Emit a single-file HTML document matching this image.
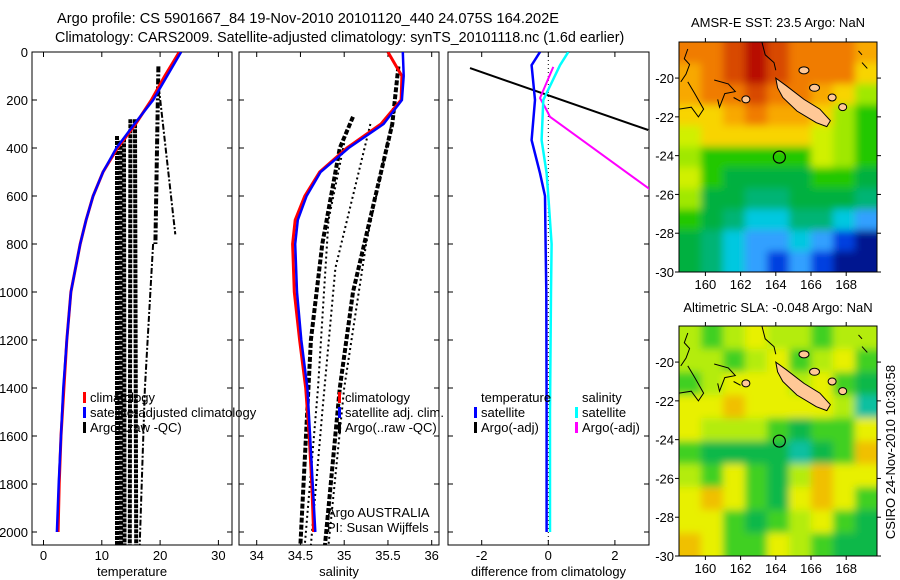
<!DOCTYPE html>
<html><head><meta charset="utf-8">
<style>
html,body{margin:0;padding:0;background:#fff;}
svg{display:block;font-family:"Liberation Sans",sans-serif;}
text{fill:#000;}
</style></head>
<body>
<svg id="fig" width="900" height="580" viewBox="0 0 900 580" xmlns="http://www.w3.org/2000/svg">
<defs>
<clipPath id="c1"><rect x="32" y="52" width="200" height="493"/></clipPath>
<clipPath id="c2"><rect x="239" y="52" width="200" height="493"/></clipPath>
<clipPath id="c3"><rect x="448" y="52" width="201" height="493"/></clipPath>
<clipPath id="m1"><rect x="679" y="42" width="198" height="230"/></clipPath>
<clipPath id="m2"><rect x="679" y="326" width="198" height="230"/></clipPath>
<filter id="bl" filterUnits="userSpaceOnUse" x="600" y="0" width="300" height="580"><feGaussianBlur stdDeviation="4"/></filter>
</defs>
<text x="57" y="23" font-size="14.6">Argo profile: CS 5901667_84 19-Nov-2010 20101120_440 24.075S 164.202E</text>
<text x="55" y="42" font-size="14.3">Climatology: CARS2009. Satellite-adjusted climatology: synTS_20101118.nc (1.6d earlier)</text>
<text x="778" y="27" font-size="13" text-anchor="middle">AMSR-E SST: 23.5 Argo: NaN</text>
<text x="778" y="312" font-size="13" text-anchor="middle">Altimetric SLA: -0.048 Argo: NaN</text>
<text transform="translate(895,452) rotate(-90)" font-size="13" text-anchor="middle">CSIRO 24-Nov-2010 10:30:58</text>
<g id="g1"></g>
<g id="g2"></g>
<g id="g3"></g>
<g id="gm1"></g>
<g id="gm2"></g>
</svg>
<script>
// ---- data ----
const depthClim = [0,100,200,300,400,500,600,700,800,1000,1200,1400,1600,1800,2000];
const tempClim = [23.3,20.8,18.5,15.8,12.7,10.2,8.5,7.3,6.3,4.7,4.0,3.5,3.0,2.7,2.5];
const tempSat = [23.6,21.2,18.8,15.6,12.5,10.2,8.5,7.3,6.3,4.7,4.0,3.4,3.0,2.6,2.3];
const salClim = [35.50,35.66,35.65,35.42,35.03,34.72,34.55,34.44,34.41,34.43,34.49,34.56,34.60,34.63,34.65];
const salSat = [35.67,35.68,35.66,35.45,35.05,34.73,34.57,34.47,34.44,34.46,34.51,34.58,34.61,34.64,34.67];
const argoTDepths = [[350,2054],[370,2054],[360,2054],[280,2054],[280,2054],[60,800],[800,1400,2054],[150,760]];
const argoTVals = [[12.6,12.6],[13.2,13.3],[13.8,13.9],[14.9,14.8],[15.7,15.9],[19.7,19.2],[18.8,17.4,16.5],[19.8,22.6]];
const argoSDepths = [[60,300,1000,1400,2054],[270,400,800,1200,2054],[380,700,1400,2054],[230,800,1400,2054],[300,900,1500,2054]];
const argoSVals = [[35.62,35.55,35.1,34.95,34.78],[35.1,34.95,34.75,34.62,34.5],[35.0,34.82,34.7,34.55],[35.58,35.25,35.0,34.82],[35.3,34.9,34.75,34.62]];
const diffDepths = [0,55,200,367,505,600,800,1000,1500,2000];
const diffTempSat = [-0.25,-0.5,-0.4,-0.5,-0.25,-0.1,-0.08,-0.06,-0.05,-0.05];
const diffSalSat = [0.6,0.35,-0.15,-0.2,-0.05,0.0,0.1,0.08,0.05,0.05];
const diffSalArgoDepths = [62,192,229,270,567,700];
const diffSalArgo = [0.15,-0.25,-0.1,0.05,3.0,4.4];
const diffTempArgoDepths = [67,325];
const diffTempArgo = [-2.35,3.0];
const depthTicks = [0,200,400,600,800,1000,1200,1400,1600,1800,2000];
const tempTicks = [0,10,20,30];
const salTicks = [34,34.5,35,35.5,36];
const diffTicks = [-2,0,2];
const lonTicks = [160,162,164,166,168];
const latTicks = [-20,-22,-24,-26,-28,-30];
const sstPalette = ['#b81000','#d84800','#f07c00','#f8a800','#f8d400','#d0f000','#a0e800','#20c800','#00b040','#00b474','#00c8e0','#30a0ff','#0040e0','#001890'];
const sstGrid = [
[2,2,1,0,1,2,2,2,3],
[3,2,1,0,1,2,2,2,4],
[3,2,2,1,2,2,3,4,6],
[4,4,3,2,3,3,4,6,7],
[5,4,4,4,4,4,5,6,7],
[6,7,7,7,7,7,5,6,7],
[5,7,8,8,8,8,7,7,8],
[6,8,8,9,9,8,8,8,9],
[7,8,9,10,10,9,9,10,11],
[8,9,10,11,11,10,11,12,13],
[8,9,10,11,12,11,12,13,13]];
const slaPalette = ['#e8f000','#b4ec10','#40d020','#10b848','#f0c000','#10c0a0'];
const slaGrid = [
[1,2,1,0,1,1,2,1,1],
[1,1,2,1,0,2,1,0,2],
[2,1,0,0,0,1,0,2,3],
[0,0,4,0,0,0,0,1,5],
[0,1,1,1,2,3,2,2,0],
[2,3,3,3,3,5,3,2,4],
[1,2,0,2,3,1,4,0,0],
[0,4,0,2,3,0,4,0,2],
[0,0,2,3,2,1,0,2,3],
[4,0,2,2,0,1,2,3,3]];
const mapLatTop=-18.14, mapLatBot=-30.0, mapLonL=158.5, mapLonR=169.75;
const argoLon=164.202, argoLat=-24.075;

// ---- helpers ----
const NS='http://www.w3.org/2000/svg';
function mk(tag, parent, attrs){const e=document.createElementNS(NS,tag);for(const k in attrs)e.setAttribute(k,attrs[k]);parent.appendChild(e);return e;}
const yD = d => 52 + d*0.24;
const xT = t => 43.5 + t*5.83;
const xS = s => 256.7 + (s-34)*87.5;
const xDf = v => 548.3 + v*33.3;
function pts(xs, ds, fx){return xs.map((v,i)=>fx(v).toFixed(1)+','+yD(ds[i]).toFixed(1)).join(' ');}

function frame(g, x0, x1, xt, fx, showY, labels){
  const r=mk('rect',g,{x:x0,y:52,width:x1-x0,height:493,fill:'none',stroke:'#000','stroke-width':1});
  
  
  depthTicks.forEach(d=>{
    const y=yD(d);
    mk('line',g,{x1:x0,x2:x0+5,y1:y,y2:y,stroke:'#000'});
    mk('line',g,{x1:x1-5,x2:x1,y1:y,y2:y,stroke:'#000'});
    if(showY){const t=mk('text',g,{x:28,y:y+5,'font-size':13,'text-anchor':'end'});t.textContent=d;
      
      }
  });
  xt.forEach(v=>{
    const x=fx(v);
    mk('line',g,{x1:x,x2:x,y1:52,y2:57,stroke:'#000'});
    mk('line',g,{x1:x,x2:x,y1:540,y2:545,stroke:'#000'});
    const t=mk('text',g,{x:x,y:560,'font-size':13,'text-anchor':'middle'});t.textContent=v;
    
    
  });
  const t=mk('text',g,{x:(x0+x1)/2,y:576,'font-size':13,'text-anchor':'middle'});t.textContent=labels;
  
  
}
function line(g, xs, ds, fx, color, w, dash, name){
  const p=mk('polyline',g,{points:pts(xs,ds,fx),fill:'none',stroke:color,'stroke-width':w});
  if(dash)p.setAttribute('stroke-dasharray',dash);
  
  
  return p;
}
function legend(g, x, y, color, label){
  if(color) mk('rect',g,{x:x,y:y-10,width:3,height:11,fill:color});
  const t=mk('text',g,{x:x+7,y:y,'font-size':13});t.textContent=label;
  
  
}

// ---- panel 1 ----
const g1=document.getElementById('g1');
frame(g1,32,232,tempTicks,xT,true,'temperature');
const c1=mk('g',g1,{'clip-path':'url(#c1)'});
argoTVals.forEach((v,i)=>{
  const dash = i<5 ? '4,1' : '6,2,2,2';
  const w = i<5 ? 4 : (i===5?4:2);
  line(c1,v,argoTDepths[i],xT,'#000',w,dash,'argo-temperature-profile');
});
line(c1,tempClim,depthClim,xT,'#ff0000',3,null,'climatology-temperature-line');
line(c1,tempSat,depthClim,xT,'#0000ff',2.5,null,'satellite-temperature-line');
legend(g1,83,402,'#ff0000','climatology');
legend(g1,83,417,'#0000ff','satellite-adjusted climatology');
legend(g1,83,432,'#000','Argo(..raw -QC)');

// ---- panel 2 ----
const g2=document.getElementById('g2');
frame(g2,239,439,salTicks,xS,false,'salinity');
const c2=mk('g',g2,{'clip-path':'url(#c2)'});
argoSVals.forEach((v,i)=>{
  line(c2,v,argoSDepths[i],xS,'#000',i<2?4:2,i<2?'5,2':'2,3','argo-salinity-profile');
});
line(c2,salClim,depthClim,xS,'#ff0000',3,null,'climatology-salinity-line');
line(c2,salSat,depthClim,xS,'#0000ff',2.5,null,'satellite-salinity-line');
legend(g2,338,402,'#ff0000','climatology');
legend(g2,338,417,'#0000ff','satellite adj. clim.');
legend(g2,338,432,'#000','Argo(..raw -QC)');
[['Argo AUSTRALIA',517],['PI: Susan Wijffels',532]].forEach(a=>{
  const t=mk('text',g2,{x:327,y:a[1],'font-size':13});t.textContent=a[0];
  
  
});

// ---- panel 3 ----
const g3=document.getElementById('g3');
frame(g3,448,649,diffTicks,xDf,false,'difference from climatology');
const c3=mk('g',g3,{'clip-path':'url(#c3)'});
mk('line',c3,{x1:xDf(0),x2:xDf(0),y1:52,y2:545,stroke:'#000','stroke-dasharray':'1,3'});
line(c3,diffTempArgo,diffTempArgoDepths,xDf,'#000',2,null,'argo-temperature-difference');
line(c3,diffSalArgo,diffSalArgoDepths,xDf,'#ff00ff',2,null,'argo-salinity-difference');
line(c3,diffSalSat,diffDepths,xDf,'#00ffff',2.5,null,'satellite-salinity-difference');
line(c3,diffTempSat,diffDepths,xDf,'#0000ff',2.5,null,'satellite-temperature-difference');
legend(g3,474,402,null,'temperature');
legend(g3,474,417,'#0000ff','satellite');
legend(g3,474,432,'#000','Argo(-adj)');
legend(g3,575,402,null,'salinity');
legend(g3,575,417,'#00ffff','satellite');
legend(g3,575,432,'#ff00ff','Argo(-adj)');

// ---- maps ----
function drawMap(g, top, grid, palette, clip){
  const bot=top+230, L=679, R=877;
  const fx=lon=>L+(lon-mapLonL)/(mapLonR-mapLonL)*(R-L);
  const fy=lat=>top+(lat-mapLatTop)/(mapLatBot-mapLatTop)*(bot-top);
  const cg=mk('g',g,{'clip-path':'url('+clip+')'});
  const fg=mk('g',cg,{filter:'url(#bl)'});
  const rows=grid.length, cols=grid[0].length, cw=(R-L)/cols, ch=230/rows;
  grid.forEach((row,r)=>row.forEach((ci,c)=>{
    let x=L+c*cw, y=top+r*ch, w=cw+1, h=ch+1;
    if(c===0){x-=15;w+=15;} if(c===cols-1){w+=15;}
    if(r===0){y-=15;h+=15;} if(r===rows-1){h+=15;}
    const cell=mk('rect',fg,{x:x,y:y,width:w,height:h,fill:palette[ci]});
    
    
  }));
  const ll=a=>a.map(p=>fx(p[0]).toFixed(1)+','+fy(p[1]).toFixed(1)).join(' ');
  const coast=[
    [[163.2,-18.1],[163.4,-18.8],[163.9,-19.2],[164.0,-19.6]],
    [[159.0,-18.5],[158.8,-19.0],[159.1,-19.3],[158.9,-19.8],[158.6,-20.2]],
    [[158.5,-21.6],[159.2,-21.5],[159.6,-22.0],[159.9,-21.6],[159.4,-20.8],[159.0,-20.2]],
    [[160.5,-20.1],[161.3,-20.3],[161.7,-20.7],[161.1,-20.8],[160.8,-21.5],[160.7,-21.1]],
    [[161.6,-21.0],[162.0,-21.2]],
    [[168.7,-18.6],[168.9,-18.8]],[[168.9,-19.2],[169.2,-19.5]]
  ];
  coast.forEach(c=>{const p=mk('polyline',cg,{points:ll(c),fill:'none',stroke:'#000','stroke-width':1});
    
    });
  [[165.6,-19.6,5],[166.2,-20.5,5],[162.3,-21.1,4],[167.2,-21.0,4],[167.8,-21.5,4]].forEach(a=>{
    const e=mk('ellipse',cg,{cx:fx(a[0]),cy:fy(a[1]),rx:a[2],ry:3.5,fill:'#ffc896',stroke:'#000','stroke-width':1});
    
    
  });
  const nc=mk('polygon',cg,{points:ll([[164.0,-20.0],[164.6,-20.4],[165.6,-21.1],[166.5,-21.6],[167.1,-22.2],[166.9,-22.5],[166.3,-22.3],[165.2,-21.7],[164.4,-21.0],[164.1,-20.5]]),fill:'#ffc896',stroke:'#000','stroke-width':1});
  
  
  const circ=mk('circle',g,{cx:fx(argoLon),cy:fy(argoLat),r:6,fill:'none',stroke:'#000','stroke-width':1.2});
  
  
  const fr=mk('rect',g,{x:L,y:top,width:R-L,height:230,fill:'none',stroke:'#000'});
  
  
  lonTicks.forEach(v=>{const x=fx(v);
    mk('line',g,{x1:x,x2:x,y1:top-4,y2:top,stroke:'#000'});
    mk('line',g,{x1:x,x2:x,y1:bot,y2:bot+4,stroke:'#000'});
    const t=mk('text',g,{x:x,y:bot+17,'font-size':13,'text-anchor':'middle'});t.textContent=v;
    
    });
  latTicks.forEach(v=>{const y=fy(v);
    mk('line',g,{x1:L-4,x2:L,y1:y,y2:y,stroke:'#000'});
    mk('line',g,{x1:R,x2:R+4,y1:y,y2:y,stroke:'#000'});
    const t=mk('text',g,{x:674,y:y+5,'font-size':13,'text-anchor':'end'});t.textContent=v;
    
    });
}
drawMap(document.getElementById('gm1'),42,sstGrid,sstPalette,'#m1');
drawMap(document.getElementById('gm2'),326,slaGrid,slaPalette,'#m2');
</script>
</body></html>
